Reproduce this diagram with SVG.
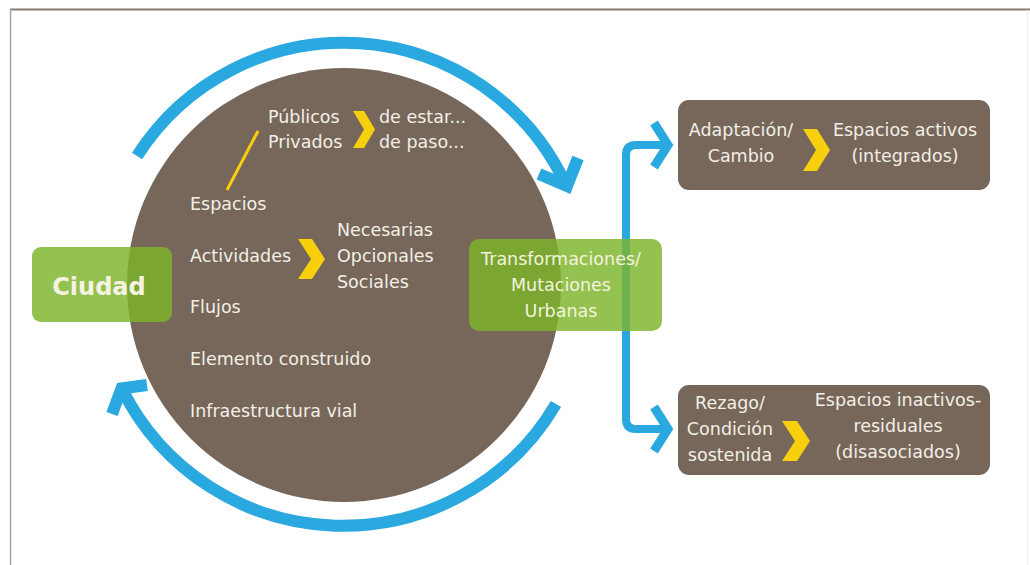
<svg xmlns="http://www.w3.org/2000/svg" width="1030" height="565" viewBox="0 0 1030 565">
<defs>
<style>
.t{font-family:"DejaVu Sans","Liberation Sans",sans-serif;font-size:17.5px;fill:#f3efe6}
.tc{text-anchor:middle}
.tg{fill:#f5f3de}
.chev{fill:#f7cf0c}
.brown{fill:#76675a}
.green{fill:#7db52a;fill-opacity:0.82}
.arc{fill:none;stroke:#2aa8e0;stroke-width:12;stroke-linejoin:miter;stroke-miterlimit:8}
.link{fill:none;stroke:#2aa8e0;stroke-width:8}
.head{fill:none;stroke:#2aa8e0;stroke-width:9;stroke-linejoin:miter;stroke-miterlimit:8}
</style>
</defs>
<rect width="1030" height="565" fill="#ffffff"/>
<g id="frame">
<line x1="10" y1="9.5" x2="1030" y2="9.5" stroke="#857a70" stroke-width="2"/>
<line x1="10.5" y1="9" x2="10.5" y2="565" stroke="#a3a3a3" stroke-width="1.5"/>
<line x1="1027.5" y1="10" x2="1027.5" y2="565" stroke="#eeeeee" stroke-width="1"/>
</g>
<g id="node-circulo">
<circle cx="344" cy="285" r="217" class="brown"/>
<line x1="227" y1="190" x2="258" y2="131" stroke="#f7cf0c" stroke-width="3"/>
<text class="t" x="268" y="123">Públicos</text>
<text class="t" x="268" y="148">Privados</text>
<polygon class="chev" points="353,111 364,111 375,129.5 364,148 353,148 364,129.5"/>
<text class="t" x="379" y="123">de estar...</text>
<text class="t" x="379" y="148">de paso...</text>
<text class="t" x="190" y="210">Espacios</text>
<text class="t" x="190" y="262">Actividades</text>
<polygon class="chev" points="298,239 312,239 325,259 312,279 298,279 311,259"/>
<text class="t" x="337" y="236">Necesarias</text>
<text class="t" x="337" y="262">Opcionales</text>
<text class="t" x="337" y="288">Sociales</text>
<text class="t" x="190" y="313">Flujos</text>
<text class="t" x="190" y="365">Elemento construido</text>
<text class="t" x="190" y="417">Infraestructura vial</text>
</g>
<g id="connectors">
<path class="arc" d="M137,156 A245,245 0 0 1 566,185"/>
<path class="arc" d="M539,174 L567,186 L578,158"/>
<path class="arc" d="M556,404 A247,247 0 0 1 122,389"/>
<path class="arc" d="M112,414 L121.5,388.5 L147,385"/>
<path class="link" d="M668,145 H636 Q626,145 626,155 V419 Q626,429 636,429 H668"/>
<path class="head" d="M654,123 L668,145 L654,167"/>
<path class="head" d="M654,407 L668,429 L654,451"/>
</g>
<g id="node-ciudad">
<rect x="32" y="247" width="140" height="75" rx="9" class="green"/>
<text x="99" y="295" text-anchor="middle" font-family="'DejaVu Sans','Liberation Sans',sans-serif" font-weight="bold" font-size="24" fill="#f7f3e3">Ciudad</text>
</g>
<g id="node-transformaciones">
<rect x="469" y="239" width="193" height="92" rx="10" class="green"/>
<text class="t tc tg" x="561" y="265">Transformaciones/</text>
<text class="t tc tg" x="561" y="291">Mutaciones</text>
<text class="t tc tg" x="561" y="317">Urbanas</text>
</g>
<g id="node-adaptacion">
<rect x="678" y="100" width="312" height="90" rx="11" class="brown"/>
<text class="t tc" x="741" y="136">Adaptación/</text>
<text class="t tc" x="741" y="162">Cambio</text>
<polygon class="chev" points="803,129 817,129 830,150 817,171 803,171 816,150"/>
<text class="t tc" x="905" y="136">Espacios activos</text>
<text class="t tc" x="905" y="162">(integrados)</text>
</g>
<g id="node-rezago">
<rect x="678" y="385" width="312" height="90" rx="11" class="brown"/>
<text class="t tc" x="730" y="409">Rezago/</text>
<text class="t tc" x="730" y="435">Condición</text>
<text class="t tc" x="730" y="461">sostenida</text>
<polygon class="chev" points="782,421 797,421 810,441 797,461 782,461 795,441"/>
<text class="t tc" x="898" y="406">Espacios inactivos-</text>
<text class="t tc" x="898" y="432">residuales</text>
<text class="t tc" x="898" y="458">(disasociados)</text>
</g>
</svg>
